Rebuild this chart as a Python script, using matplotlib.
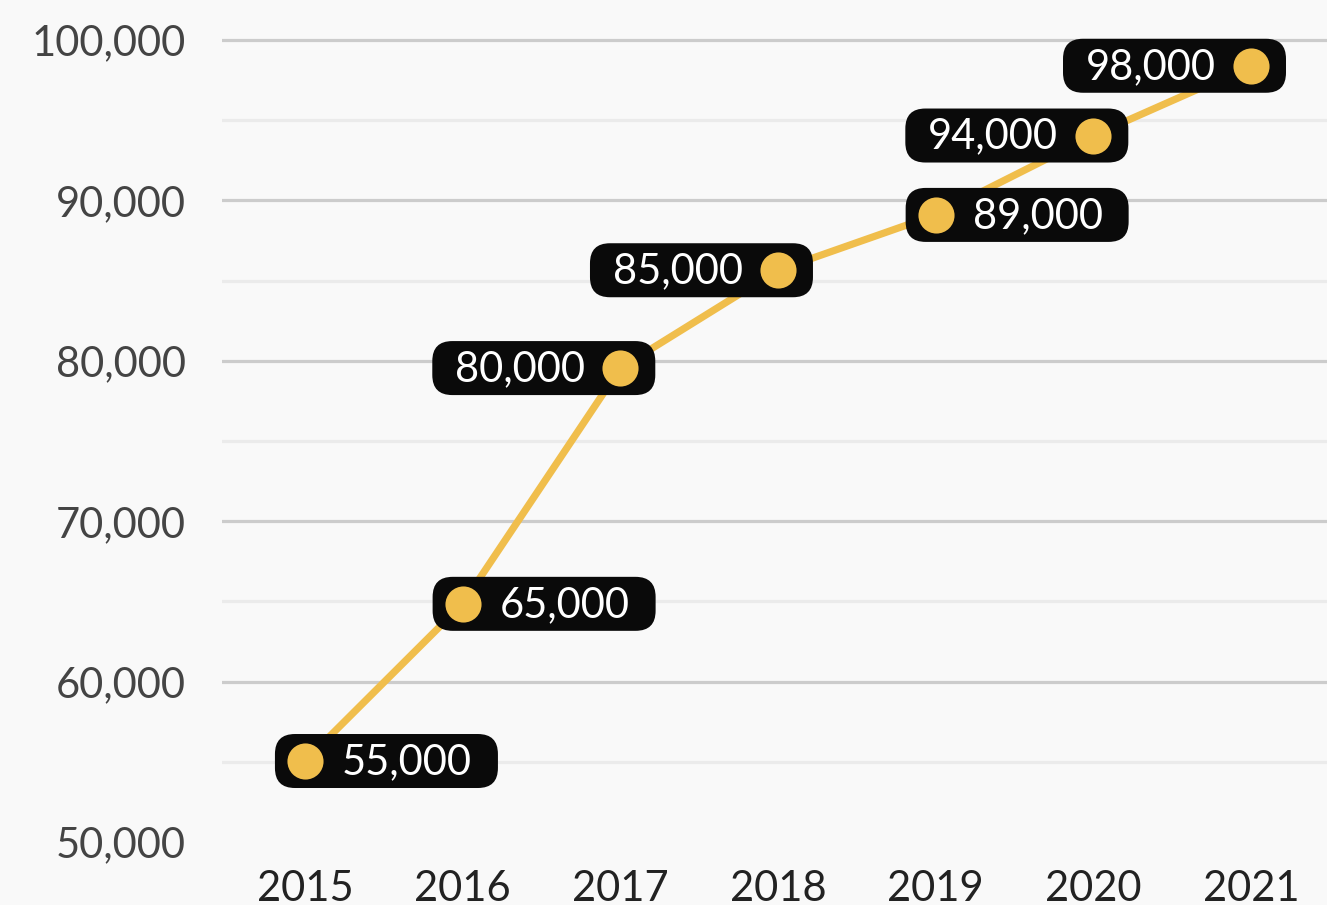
import matplotlib.pyplot as plt
import matplotlib.transforms as mtransforms
from matplotlib.patches import FancyBboxPatch

years = ['2015', '2016', '2017', '2018', '2019', '2020', '2021']
values = [55050, 64850, 79550, 85650, 89100, 94050, 98400]
labels = ['55,000', '65,000', '80,000', '85,000', '89,000', '94,000', '98,000']
# which side of the marker the label box sits on
sides = ['right', 'right', 'left', 'left', 'right', 'left', 'left']

major_ticks = [50000, 60000, 70000, 80000, 90000, 100000]
minor_ticks = [55000, 65000, 75000, 85000, 95000]

BG = '#f9f9f9'
YELLOW = '#f0be4c'
BOX = '#0a0a0a'

plt.rcParams['font.family'] = ['Lato', 'DejaVu Sans']

fig = plt.figure(figsize=(13.27, 9.05), dpi=100, facecolor=BG)
ax = fig.add_axes([222 / 1327, 63 / 905, 1 - 222 / 1327, 1 - 63 / 905])
ax.set_facecolor(BG)

x = list(range(len(years)))
ax.set_xlim(-0.526, 6.482)
ax.set_ylim(50000, 102500)

for t in major_ticks[1:]:
    ax.axhline(t, color='#cccccc', lw=2.3, zorder=1)
for t in minor_ticks:
    ax.axhline(t, color='#ebebeb', lw=2.3, zorder=1)

ax.plot(x, values, color=YELLOW, lw=5.2, zorder=2, solid_capstyle='butt')

for xi, v, lab, side in zip(x, values, labels, sides):
    offset = mtransforms.ScaledTranslation(xi, v, ax.transData)
    trans = fig.dpi_scale_trans + offset
    if side == 'right':
        x0, w = -0.30, 2.23
        tx, ha = 0.37, 'left'
    else:
        x0, w = -1.88, 2.23
        tx, ha = -0.35, 'right'
    box = FancyBboxPatch((x0, -0.27), w, 0.54,
                         boxstyle='round,pad=0,rounding_size=0.2',
                         transform=trans, facecolor=BOX, edgecolor='none',
                         zorder=3, clip_on=False)
    ax.add_patch(box)
    ax.text(tx, -0.01, lab, transform=trans, ha=ha, va='center',
            color='white', fontsize=30, zorder=5)
    ax.plot([xi], [v], 'o', color=YELLOW, markersize=26, mec='none', zorder=4)

ax.set_xticks(x)
ax.set_xticklabels(years)
ax.set_yticks(major_ticks)
ax.set_yticklabels([f'{t:,}' for t in major_ticks])
ax.tick_params(axis='both', length=0, labelsize=30)
ax.tick_params(axis='y', pad=26, labelcolor='#444444')
ax.tick_params(axis='x', pad=20, labelcolor='#222222')
for s in ax.spines.values():
    s.set_visible(False)

fig.savefig('out.png', dpi=100, facecolor=BG)
